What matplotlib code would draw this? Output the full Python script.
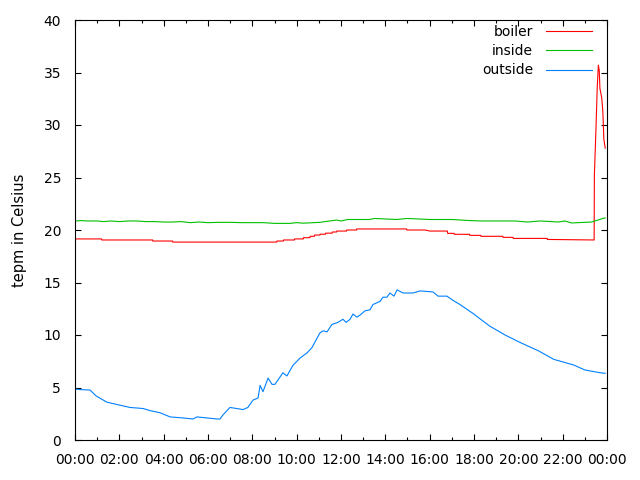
import numpy as np
import matplotlib
matplotlib.use('Agg')
import matplotlib.pyplot as plt
from matplotlib.ticker import MultipleLocator

# times in hours since midnight, temperatures in Celsius
boiler_t = [0.0, 1.2, 1.21, 3.5, 3.51, 4.4, 4.41, 9.1, 9.11, 9.4, 9.41, 9.9, 9.91,
            10.3, 10.31, 10.6, 10.61, 10.8, 10.81, 11.05, 11.06, 11.3, 11.31, 11.6,
            11.61, 11.8, 11.81, 12.25, 12.26, 12.7, 12.71, 14.96, 14.97, 15.8, 16.0,
            16.8, 16.81, 17.1, 17.11, 17.8, 17.81, 18.3, 18.31, 19.3, 19.31, 19.76,
            19.77, 21.3, 21.31, 23.42, 23.43, 23.50, 23.56, 23.61, 23.65, 23.68,
            23.76, 23.81, 23.86, 23.92]
boiler = [19.15, 19.15, 19.05, 19.05, 18.95, 18.95, 18.85, 18.85, 18.95, 18.95,
          19.05, 19.05, 19.15, 19.15, 19.27, 19.27, 19.4, 19.4, 19.52, 19.52, 19.6,
          19.6, 19.7, 19.7, 19.81, 19.81, 19.9, 19.9, 20.0, 20.0, 20.1, 20.1, 20.0,
          20.0, 19.9, 19.9, 19.68, 19.68, 19.59, 19.59, 19.49, 19.49, 19.4, 19.4,
          19.3, 19.3, 19.2, 19.2, 19.1, 19.05, 25.2, 29.5, 33.6, 35.7, 35.2, 33.5,
          32.6, 31.4, 28.6, 27.8]

inside_t = [0.0, 0.3, 0.5, 1.0, 1.3, 1.6, 2.0, 2.4, 2.8, 3.2, 3.6, 4.0, 4.4, 4.8,
            5.2, 5.6, 6.0, 6.5, 7.0, 7.5, 8.0, 8.5, 9.0, 9.7, 10.0, 10.3, 11.05,
            11.5, 11.8, 12.0, 12.3, 13.3, 13.5, 14.5, 15.0, 16.0, 17.0, 17.4, 17.8,
            18.3, 19.0, 19.85, 20.4, 21.0, 21.8, 22.1, 22.4, 23.3, 23.45, 23.6, 23.8,
            23.92]
inside = [20.86, 20.9, 20.86, 20.86, 20.8, 20.86, 20.8, 20.86, 20.86, 20.8, 20.8,
          20.76, 20.76, 20.8, 20.7, 20.76, 20.7, 20.73, 20.73, 20.7, 20.7, 20.7,
          20.63, 20.63, 20.7, 20.65, 20.73, 20.86, 20.95, 20.86, 21.0, 21.0, 21.1,
          21.0, 21.1, 21.0, 21.0, 20.95, 20.9, 20.86, 20.86, 20.86, 20.76, 20.86,
          20.76, 20.86, 20.67, 20.76, 20.86, 20.95, 21.1, 21.15]

outside_t = [0.0, 0.23, 0.68, 0.95, 1.44, 1.94, 2.48, 3.07, 3.38, 3.83, 4.29, 4.87,
             5.32, 5.50, 5.95, 6.41, 6.54, 6.68, 6.99, 7.58, 7.80, 8.03, 8.26, 8.35,
             8.48, 8.71, 8.89, 9.02, 9.25, 9.38, 9.56, 9.83, 10.15, 10.47, 10.69,
             10.92, 11.05, 11.19, 11.37, 11.59, 11.86, 12.09, 12.23, 12.41, 12.54,
             12.72, 12.86, 13.08, 13.31, 13.44, 13.76, 13.89, 14.07, 14.21, 14.39,
             14.53, 14.80, 15.25, 15.56, 16.15, 16.38, 16.78, 17.05, 17.37, 17.95,
             18.7, 19.4, 20.1, 20.9, 21.6, 22.5, 23.0, 23.68, 23.92]
outside = [4.86, 4.8, 4.76, 4.2, 3.6, 3.36, 3.1, 3.0, 2.8, 2.6, 2.2, 2.1, 2.0, 2.2,
           2.1, 2.0, 2.0, 2.4, 3.1, 2.9, 3.1, 3.8, 4.0, 5.2, 4.6, 5.9, 5.3, 5.3, 6.0,
           6.4, 6.1, 7.1, 7.8, 8.3, 8.8, 9.7, 10.2, 10.4, 10.3, 11.0, 11.2, 11.5,
           11.2, 11.5, 12.0, 11.7, 11.9, 12.3, 12.4, 12.9, 13.2, 13.6, 13.6, 14.0,
           13.7, 14.3, 14.0, 14.0, 14.2, 14.1, 13.7, 13.7, 13.3, 12.9, 12.06, 10.86,
           10.0, 9.27, 8.5, 7.68, 7.14, 6.67, 6.41, 6.35]

xtick_labels = ['00:00', '02:00', '04:00', '06:00', '08:00', '10:00', '12:00',
                '14:00', '16:00', '18:00', '20:00', '22:00', '00:00']

fig = plt.figure(figsize=(6.4, 4.8), dpi=100)
ax = fig.add_axes([75 / 640, 40 / 480, 532 / 640, 420 / 480])

ax.plot(boiler_t, boiler, color='#ff0000', lw=0.8, label='boiler')
ax.plot(inside_t, inside, color='#00c000', lw=0.8, label='inside')
ax.plot(outside_t, outside, color='#0080ff', lw=0.8, label='outside')

ax.set_xlim(0, 24)
ax.set_ylim(0, 40)
ax.set_xticks(np.arange(0, 25, 2))
ax.set_xticklabels(xtick_labels)
ax.xaxis.set_minor_locator(MultipleLocator(1))
ax.yaxis.set_major_locator(MultipleLocator(5))
ax.tick_params(which='both', direction='in', top=True, right=True, labelsize=10,
               width=0.8, colors='black')
ax.tick_params(axis='x', which='major', length=4.5, pad=9)
ax.tick_params(axis='y', which='major', length=4.5, pad=10)
ax.tick_params(which='minor', length=2.5)
for s in ax.spines.values():
    s.set_linewidth(0.8)

ax.set_ylabel('tepm in Celsius', fontsize=10.5, labelpad=12)

ax.legend(loc='upper right', frameon=False, markerfirst=False, fontsize=10,
          handlelength=3.3, labelspacing=0.38, handletextpad=0.95,
          bbox_to_anchor=(0.985, 1.005), borderaxespad=0.1)

plt.savefig('out.png', dpi=100)
